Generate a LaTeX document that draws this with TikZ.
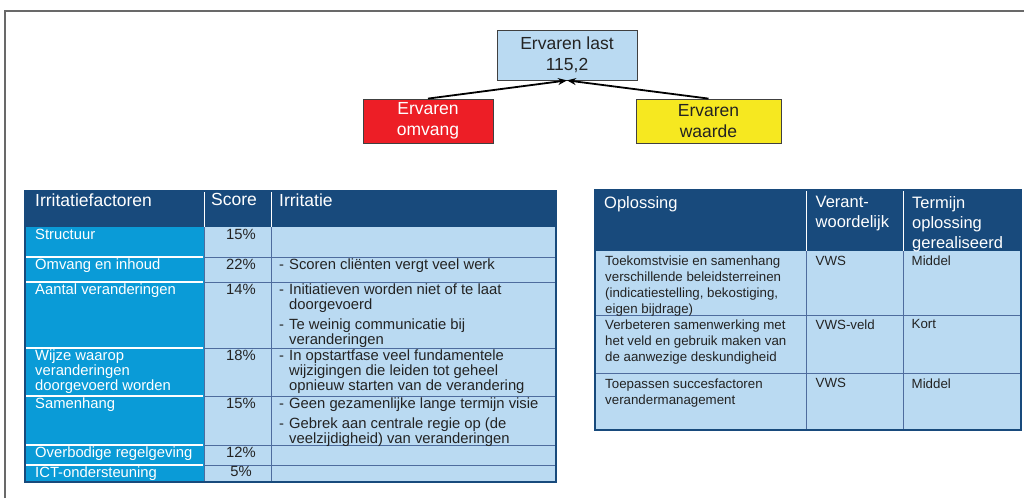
\documentclass[tikz,border=0pt]{standalone}
\usepackage{fontspec}
\setmainfont{Liberation Sans}
\usetikzlibrary{arrows.meta}
\definecolor{hdrc}{RGB}{24,74,124}
\definecolor{c1c}{RGB}{10,155,215}
\definecolor{lightc}{RGB}{186,218,242}
\definecolor{gridc}{RGB}{78,108,158}
\definecolor{redc}{RGB}{237,30,38}
\definecolor{yelc}{RGB}{246,232,32}
\definecolor{framec}{RGB}{105,105,105}
\definecolor{txtc}{RGB}{35,35,35}
\newcommand{\dsh}{\makebox[10pt][l]{-}}
\newcommand{\ind}{\hspace*{10pt}}
\tikzset{
  topbox/.style={draw=black!75, line width=0.8pt, align=center, inner sep=0pt, text=txtc, font=\fontsize{17.5}{20.5}\selectfont},
  arr/.style={draw=black, line width=1.8pt, -{Stealth[length=9pt,width=7pt]}},
  hdrtxt/.style={anchor=north west, inner sep=0pt, text=white, align=left, font=\fontsize{16.5}{20}\selectfont},
  lhdrtxt/.style={hdrtxt, font=\fontsize{17.5}{20}\selectfont},
  lcol/.style={anchor=north west, inner sep=0pt, text=white, align=left, font=\fontsize{14.8}{14.8}\selectfont},
  ltxt/.style={anchor=north west, inner sep=0pt, text=txtc, align=left, font=\fontsize{14.8}{14.8}\selectfont},
  lscore/.style={anchor=north, inner sep=0pt, text=txtc, font=\fontsize{14.8}{14.8}\selectfont},
  rtxt/.style={anchor=north west, inner sep=0pt, text=txtc, align=left, font=\fontsize{13.3}{16}\selectfont},
  wline/.style={draw=white, line width=1.3pt},
  gline/.style={draw=gridc, line width=1pt},
  hline/.style={draw=white, line width=1pt},
  border/.style={draw=hdrc, line width=2.2pt}
}
\begin{document}
\begin{tikzpicture}[x=1pt,y=-1pt]
\useasboundingbox (0,0) rectangle (1024,498);
% frame
\draw[framec, line width=1.3pt] (5,498) -- (5,11) -- (1024,11);

% top diagram
\node[topbox, fill=lightc, minimum width=140pt, minimum height=50pt] (last) at (567,55) {Ervaren last\\115,2};
\node[topbox, fill=redc, text=white, minimum width=130pt, minimum height=44pt] (omvang) at (428,121) {Ervaren\\omvang};
\node[topbox, fill=yelc, minimum width=145pt, minimum height=44pt] (waarde) at (708.5,121) {Ervaren\\waarde};
\draw[arr] (omvang.north) -- (last.south);
\draw[arr] (waarde.north) -- (last.south);

% left table
\fill[hdrc] (25,191) rectangle (556,227);
\fill[c1c] (25,227) rectangle (204,482);
\fill[lightc] (204,227) rectangle (556,482);
\foreach \y in {257,282,348,396,445,465} {
  \draw[wline] (26,\y) -- (203,\y);
  \draw[gline] (204,\y) -- (556,\y);
}
\draw[gline] (204,227) -- (204,482);
\draw[gline] (271,227) -- (271,482);
\draw[hline] (204,192) -- (204,227);
\draw[hline] (271,192) -- (271,227);
\draw[border] (25,191) rectangle (556,482);

\node[lhdrtxt] (lh1) at (35,193.5) {Irritatiefactoren};
\node[lhdrtxt] (lh2) at (211,193.5) {Score};
\node[lhdrtxt] (lh3) at (279,193.5) {Irritatie};

\node[lcol] (f1) at (35,229) {Structuur};
\node[lcol] (f2) at (35,259) {Omvang en inhoud};
\node[lcol] (f3) at (35,284) {Aantal veranderingen};
\node[lcol] (f4) at (35,350) {Wijze waarop\\veranderingen\\doorgevoerd worden};
\node[lcol] (f5) at (35,398) {Samenhang};
\node[lcol] (f6) at (35,446.5) {Overbodige regelgeving};
\node[lcol] (f7) at (35,466.5) {ICT-ondersteuning};

\node[lscore] (s1) at (241,229) {15\%};
\node[lscore] (s2) at (241,259) {22\%};
\node[lscore] (s3) at (241,284) {14\%};
\node[lscore] (s4) at (241,350) {18\%};
\node[lscore] (s5) at (241,398) {15\%};
\node[lscore] (s6) at (241,446.5) {12\%};
\node[lscore] (s7) at (241,466.5) {5\%};

\node[ltxt] (i2) at (279,259) {\dsh Scoren cliënten vergt veel werk};
\node[ltxt] (i3) at (279,284) {\dsh Initiatieven worden niet of te laat\\\ind doorgevoerd\\[5pt]\dsh Te weinig communicatie bij\\\ind veranderingen};
\node[ltxt] (i4) at (279,350) {\dsh In opstartfase veel fundamentele\\\ind wijzigingen die leiden tot geheel\\\ind opnieuw starten van de verandering};
\node[ltxt] (i5) at (279,398) {\dsh Geen gezamenlijke lange termijn visie\\[5pt]\dsh Gebrek aan centrale regie op (de\\\ind veelzijdigheid) van veranderingen};

% right table
\fill[hdrc] (595,190) rectangle (1021,251);
\fill[lightc] (595,251) rectangle (1021,430);
\foreach \y in {315,373} \draw[gline] (595,\y) -- (1021,\y);
\draw[gline] (806,251) -- (806,430);
\draw[gline] (903,251) -- (903,430);
\draw[hline] (806,191) -- (806,251);
\draw[hline] (903,191) -- (903,251);
\draw[border] (595,190) rectangle (1021,430);

\node[hdrtxt] (rh1) at (604,196.2) {Oplossing};
\node[hdrtxt] (rh2) at (815.5,196.2) {Verant-\\woordelijk};
\node[hdrtxt] (rh3) at (912,196.2) {Termijn\\oplossing\\gerealiseerd};

\node[rtxt] (o1) at (605,256.1) {Toekomstvisie en samenhang\\verschillende beleidsterreinen\\(indicatiestelling, bekostiging,\\eigen bijdrage)};
\node[rtxt] (o2) at (605,319.5) {Verbeteren samenwerking met\\het veld en gebruik maken van\\de aanwezige deskundigheid};
\node[rtxt] (o3) at (605,378.5) {Toepassen succesfactoren\\verandermanagement};
\node[rtxt] (v1) at (815.5,256.1) {VWS};
\node[rtxt] (v2) at (815.5,319.5) {VWS-veld};
\node[rtxt] (v3) at (815.5,378.5) {VWS};
\node[rtxt] (m1) at (911.5,256.1) {Middel};
\node[rtxt] (m2) at (911.5,319.5) {Kort};
\node[rtxt] (m3) at (911.5,378.5) {Middel};
\end{tikzpicture}
\end{document}
